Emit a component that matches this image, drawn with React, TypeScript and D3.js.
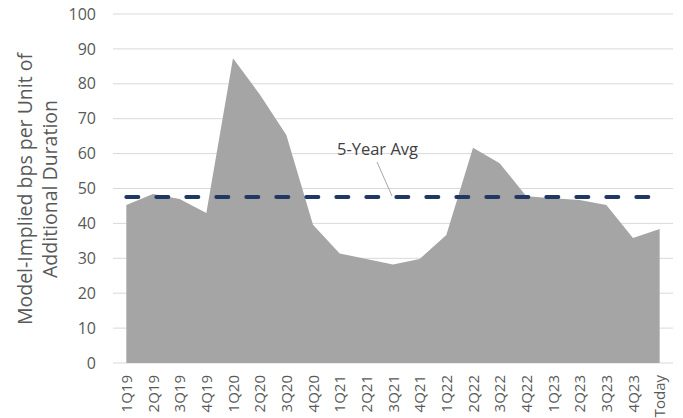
import React from "react";
import * as d3 from "d3";

const categories = [
  "1Q19", "2Q19", "3Q19", "4Q19",
  "1Q20", "2Q20", "3Q20", "4Q20",
  "1Q21", "2Q21", "3Q21", "4Q21",
  "1Q22", "2Q22", "3Q22", "4Q22",
  "1Q23", "2Q23", "3Q23", "4Q23",
  "Today",
];
const values = [
  45.3, 48.4, 47.0, 43.0,
  87.3, 77.0, 65.3, 39.6,
  31.4, 29.8, 28.2, 29.8,
  36.7, 61.7, 57.2, 47.8,
  47.2, 46.7, 45.3, 35.8,
  38.4,
];
const avgValue = 47.6;
const avgLabel = "5-Year Avg";
const yTicks = [0, 10, 20, 30, 40, 50, 60, 70, 80, 90, 100];
const yTitleLines = ["Model-Implied bps per Unit of", "Additional Duration"];

const W = 683;
const H = 418;
const FONT = "'Open Sans', sans-serif";

export default function App() {
  const x = d3.scaleBand<string>().domain(categories).range([113, 673]).padding(0);
  const y = d3.scaleLinear().domain([0, 100]).range([363, 14]);
  const cx = (c: string) => (x(c) as number) + x.bandwidth() / 2;

  const area = d3
    .area<number>()
    .x((_, i) => cx(categories[i]))
    .y0(y(0))
    .y1((d) => y(d));

  const xFirst = cx(categories[0]);
  const xLast = cx(categories[categories.length - 1]);
  const yAvg = y(avgValue);
  const labelX = 377.5;
  const labelY = 155;

  return (
    <svg
      width={W}
      height={H}
      style={{ position: "absolute", left: 0, top: 0, display: "block", background: "#fff" }}
      fontFamily={FONT}
    >
      {yTicks.map((t) => (
        <line key={"g" + t} x1={113} x2={673} y1={y(t)} y2={y(t)} stroke="#d9d9d9" strokeWidth={1} />
      ))}
      <path d={area(values) || ""} fill="#a5a5a5" />
      <line
        x1={xFirst}
        x2={xLast}
        y1={yAvg}
        y2={yAvg}
        stroke="#1f3864"
        strokeWidth={4}
        strokeDasharray="12 18"
        strokeLinecap="round"
      />
      <line x1={377} y1={162} x2={392} y2={196} stroke="#a6a6a6" strokeWidth={1} />
      <text x={labelX} y={labelY} textAnchor="middle" fontSize={16.5} fill="#404040">
        {avgLabel}
      </text>
      {yTicks.map((t) => (
        <text
          key={"t" + t}
          x={96}
          y={y(t)}
          dy="0.35em"
          textAnchor="end"
          fontSize={16}
          fill="#595959"
        >
          {t}
        </text>
      ))}
      {categories.map((c) => (
        <text
          key={"x" + c}
          transform={`translate(${cx(c) + 5.5},375) rotate(-90)`}
          textAnchor="end"
          fontSize={15}
          fill="#595959"
        >
          {c}
        </text>
      ))}
      {yTitleLines.map((l, i) => (
        <text
          key={"yt" + i}
          transform={`translate(${32 + i * 25},189) rotate(-90)`}
          textAnchor="middle"
          fontSize={19.5}
          fill="#595959"
        >
          {l}
        </text>
      ))}
    </svg>
  );
}
